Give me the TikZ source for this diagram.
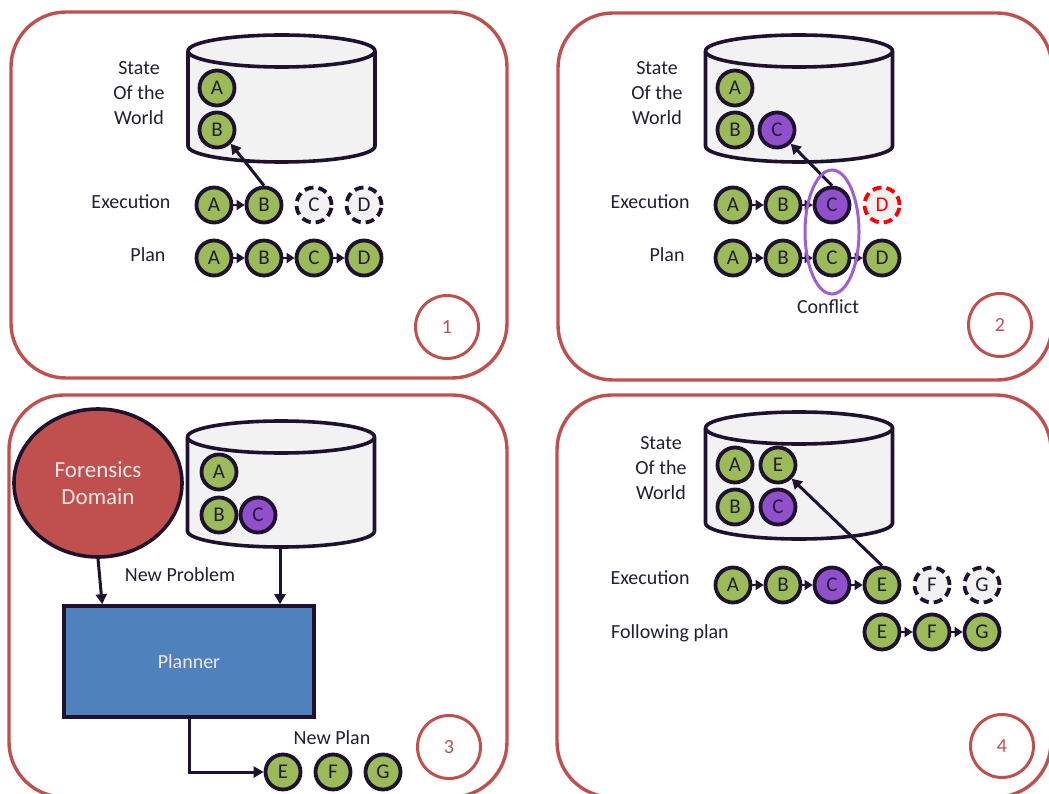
\documentclass[tikz,border=0pt]{standalone}
\usepackage{fontspec}
\setmainfont{Carlito}
\usetikzlibrary{arrows.meta,shapes.geometric}

\definecolor{ink}{HTML}{1E1230}
\definecolor{txt}{HTML}{231E33}
\definecolor{panelred}{HTML}{C0504D}
\definecolor{leaf}{HTML}{9BBB59}
\definecolor{grape}{HTML}{9150CB}
\definecolor{halo}{HTML}{9B5FD8}
\definecolor{pale}{HTML}{F2F2F2}
\definecolor{sky}{HTML}{4F81BD}
\definecolor{blush}{HTML}{F6E6E6}

% storage drum: centre x, top rim y, bottom rim y
\newcommand\drumshape[3]{%
  \fill[pale] ({#1-93.5},#2) -- ({#1-93.5},#3)
    arc[start angle=180,end angle=0,x radius=93.5,y radius=16] -- ({#1+93.5},#2) -- cycle;
  \draw[drumline] ({#1-93.5},#2) -- ({#1-93.5},#3)
    arc[start angle=180,end angle=0,x radius=93.5,y radius=16] -- ({#1+93.5},#2);
  \filldraw[drumline,fill=pale] (#1,#2) ellipse[x radius=93.5,y radius=16];
}

\tikzset{
  panel/.style={draw=panelred, line width=3.4pt, rounded corners=55pt},
  badge/.style={circle, draw=panelred, line width=3pt, minimum size=63pt,
    inner sep=0pt, text=panelred, font=\fontsize{20}{22}\selectfont},
  drumline/.style={draw=ink, line width=3.6pt, line join=round},
  tok/.style={circle, draw=ink, line width=3.8pt, minimum size=35pt, inner sep=0pt,
    fill=leaf, text=txt, font=\fontsize{21}{22}\selectfont},
  tokp/.style={tok, fill=grape},
  ghost/.style={tok, fill=pale, dash pattern=on 9pt off 5pt},
  ghostred/.style={ghost, draw=red, text=red},
  link/.style={draw=ink, line width=2.5pt, -{Triangle[length=8pt,width=10pt]}},
  uplink/.style={draw=ink, line width=3pt, -{Triangle[length=10pt,width=11pt]}},
  lbl/.style={text=txt, font=\fontsize{20}{25}\selectfont, align=center, inner sep=0pt},
}

\begin{document}
\begin{tikzpicture}[x=1pt,y=-1pt]
\useasboundingbox (0,0) rectangle (1049,794);
\clip (0,0) rectangle (1049,794);

% ---------- frames and step numbers ----------
\draw[panel] (11,12) rectangle (507,378);
\draw[panel] (558,13) rectangle (1052,380);
\draw[panel] (9,395) rectangle (507,797);
\draw[panel] (557,395) rectangle (1051,797);
\node[badge] (n1) at (447,327) {1};
\node[badge] (n2) at (1000,325) {2};
\node[badge] (n3) at (449,747) {3};
\node[badge] (n4) at (1002,746) {4};

% ---------- step 1 ----------
\drumshape{281.5}{51}{146}
\node[tok] (cA1) at (217,88) {A};
\node[tok] (cB1) at (217,130) {B};
\node[lbl] (sw1) at (139,93) {State\\Of the\\World};
\node[lbl] (ex1) at (131,202) {Execution};
\node[lbl] (pl1) at (148,255) {Plan};
\node[tok] (eA1) at (214,205) {A};
\node[tok] (eB1) at (264,205) {B};
\node[ghost] (eC1) at (314,205) {C};
\node[ghost] (eD1) at (364,205) {D};
\node[tok] (pA1) at (214,258) {A};
\node[tok] (pB1) at (264,258) {B};
\node[tok] (pC1) at (314,258) {C};
\node[tok] (pD1) at (364,258) {D};
\draw[link] (eA1) -- (eB1);
\draw[link] (pA1) -- (pB1);
\draw[link] (pB1) -- (pC1);
\draw[link] (pC1) -- (pD1);
\draw[uplink] (eB1.north) -- (cB1.south east);

% ---------- step 2 ----------
\drumshape{799}{51}{146}
\node[tok] (cA2) at (735,88) {A};
\node[tok] (cB2) at (735,130) {B};
\node[tokp] (cC2) at (777,130) {C};
\node[lbl] (sw2) at (657,93) {State\\Of the\\World};
\node[lbl] (ex2) at (650,202) {Execution};
\node[lbl] (pl2) at (667,255) {Plan};
\node[tok] (eA2) at (733,205) {A};
\node[tok] (eB2) at (783,205) {B};
\node[tokp] (eC2) at (832,205) {C};
\node[ghostred] (eD2) at (882,205) {D};
\node[tok] (pA2) at (733,258) {A};
\node[tok] (pB2) at (783,258) {B};
\node[tok] (pC2) at (832,258) {C};
\node[tok] (pD2) at (882,258) {D};
\draw[link] (eA2) -- (eB2);
\draw[link] (eB2) -- (eC2);
\draw[link] (pA2) -- (pB2);
\draw[link] (pB2) -- (pC2);
\draw[link] (pC2) -- (pD2);
\draw[uplink] (eC2.north) -- (cC2.south east);
\node[ellipse, draw=halo, line width=3pt, minimum width=54pt, minimum height=124pt,
  inner sep=0pt] (clash) at (832,232) {};
\node[lbl] (clashtxt) at (828,307) {Conflict};

% ---------- step 3 ----------
\drumshape{281}{437}{531}
\coordinate (cyl3bot) at (280,548);
\node[tok] (cA3) at (219,472) {A};
\node[tok] (cB3) at (219,515) {B};
\node[tokp] (cC3) at (258,515) {C};
\node[ellipse, draw=ink, line width=3.6pt, fill=panelred, minimum width=168pt,
  minimum height=148pt, inner sep=0pt, text=blush, align=center,
  font=\fontsize{23}{27}\selectfont] (dom) at (98,483) {Forensics\\Domain};
\node[rectangle, draw=ink, line width=3.6pt, fill=sky, minimum width=250pt,
  minimum height=111pt, inner sep=0pt, text=blush,
  font=\fontsize{20}{24}\selectfont] (planner) at (189,661.5) {Planner};
\node[lbl] (np) at (180,575) {New Problem};
\node[lbl] (npl) at (332,738) {New Plan};
\node[tok] (nE3) at (283,772) {E};
\node[tok] (nF3) at (333,772) {F};
\node[tok] (nG3) at (383,772) {G};
\draw[uplink] (dom.south) -- ([xshift=40pt]planner.north west);
\draw[uplink] (cyl3bot) -- (planner.north -| cyl3bot);
\draw[uplink] (planner.south) |- (nE3.west);

% ---------- step 4 ----------
\drumshape{799}{428}{523}
\node[tok] (cA4) at (735,465) {A};
\node[tok] (cE4) at (778,465) {E};
\node[tok] (cB4) at (735,507) {B};
\node[tokp] (cC4) at (778,507) {C};
\node[lbl] (sw4) at (661,468) {State\\Of the\\World};
\node[lbl] (ex4) at (650,578) {Execution};
\node[lbl] (fp4) at (670,633) {Following plan};
\node[tok] (eA4) at (733,585) {A};
\node[tok] (eB4) at (783,585) {B};
\node[tokp] (eC4) at (832,585) {C};
\node[tok] (eE4) at (882,585) {E};
\node[ghost] (eF4) at (932,585) {F};
\node[ghost] (eG4) at (982,585) {G};
\node[tok] (fE4) at (882,632) {E};
\node[tok] (fF4) at (932,632) {F};
\node[tok] (fG4) at (982,632) {G};
\draw[link] (eA4) -- (eB4);
\draw[link] (eB4) -- (eC4);
\draw[link] (eC4) -- (eE4);
\draw[link] (fE4) -- (fF4);
\draw[link] (fF4) -- (fG4);
\draw[uplink] (eE4.north) -- (cE4.south east);
\end{tikzpicture}
\end{document}
